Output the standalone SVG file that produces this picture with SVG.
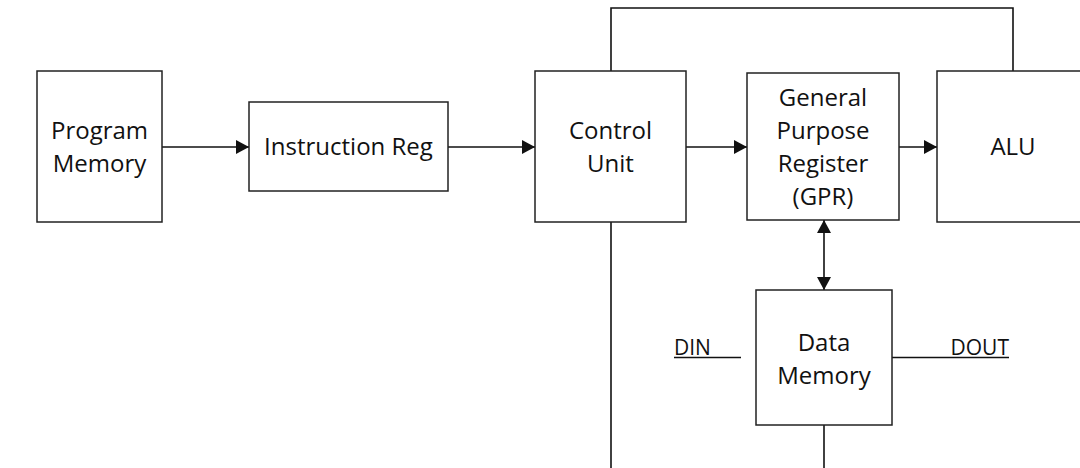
<svg xmlns="http://www.w3.org/2000/svg" width="1080" height="468" viewBox="0 0 1080 468">
<style>
.box{fill:#fff;stroke:#222;stroke-width:1.5}
.t{font-family:"Open Sans","Liberation Sans",sans-serif;font-size:24px;fill:#111;text-anchor:middle}
.lab{font-family:"Open Sans","Liberation Sans",sans-serif;font-size:21px;fill:#111}
.c{fill:none;stroke:#111;stroke-width:1.6}
</style>
<defs>
<marker id="ah" markerUnits="userSpaceOnUse" markerWidth="14" markerHeight="14" refX="13" refY="7" orient="auto-start-reverse" viewBox="0 0 14 14">
<path d="M0,0 L13,7 L0,14 z" fill="#111"/>
</marker>
</defs>
<rect width="1080" height="468" fill="#fff"/>
<g id="connectors">
<line class="c" x1="162" y1="147" x2="249" y2="147" marker-end="url(#ah)"/>
<line class="c" x1="448" y1="147" x2="535" y2="147" marker-end="url(#ah)"/>
<line class="c" x1="686" y1="147" x2="747" y2="147" marker-end="url(#ah)"/>
<line class="c" x1="899" y1="147" x2="937" y2="147" marker-end="url(#ah)"/>
<polyline class="c" points="611,71 611,8 1013,8 1013,71"/>
<line class="c" x1="611" y1="222" x2="611" y2="468"/>
<line class="c" x1="824" y1="220" x2="824" y2="290" marker-start="url(#ah)" marker-end="url(#ah)"/>
<line class="c" x1="824" y1="425" x2="824" y2="468"/>
<line class="c" x1="674" y1="357.5" x2="741" y2="357.5"/>
<line class="c" x1="892" y1="357.5" x2="1009" y2="357.5"/>
</g>
<g id="program-memory">
<rect class="box" x="37" y="71" width="125" height="151"/>
<text class="t" x="99.5" y="139">Program</text>
<text class="t" x="99.5" y="172">Memory</text>
</g>
<g id="instruction-reg">
<rect class="box" x="249" y="102" width="199" height="89"/>
<text class="t" x="348.5" y="155">Instruction Reg</text>
</g>
<g id="control-unit">
<rect class="box" x="535" y="71" width="151" height="151"/>
<text class="t" x="610.5" y="139">Control</text>
<text class="t" x="610.5" y="172">Unit</text>
</g>
<g id="gpr">
<rect class="box" x="747" y="73" width="152" height="147"/>
<text class="t" x="823" y="106">General</text>
<text class="t" x="823" y="139">Purpose</text>
<text class="t" x="823" y="172">Register</text>
<text class="t" x="823" y="205">(GPR)</text>
</g>
<g id="alu">
<rect class="box" x="937" y="71" width="152" height="151"/>
<text class="t" x="1013" y="155">ALU</text>
</g>
<g id="data-memory">
<rect class="box" x="756" y="290" width="136" height="135"/>
<text class="t" x="824" y="351">Data</text>
<text class="t" x="824" y="384">Memory</text>
</g>
<g id="din">
<text class="lab" x="674" y="355">DIN</text>
</g>
<g id="dout">
<text class="lab" x="1009" y="355" text-anchor="end">DOUT</text>
</g>
</svg>
